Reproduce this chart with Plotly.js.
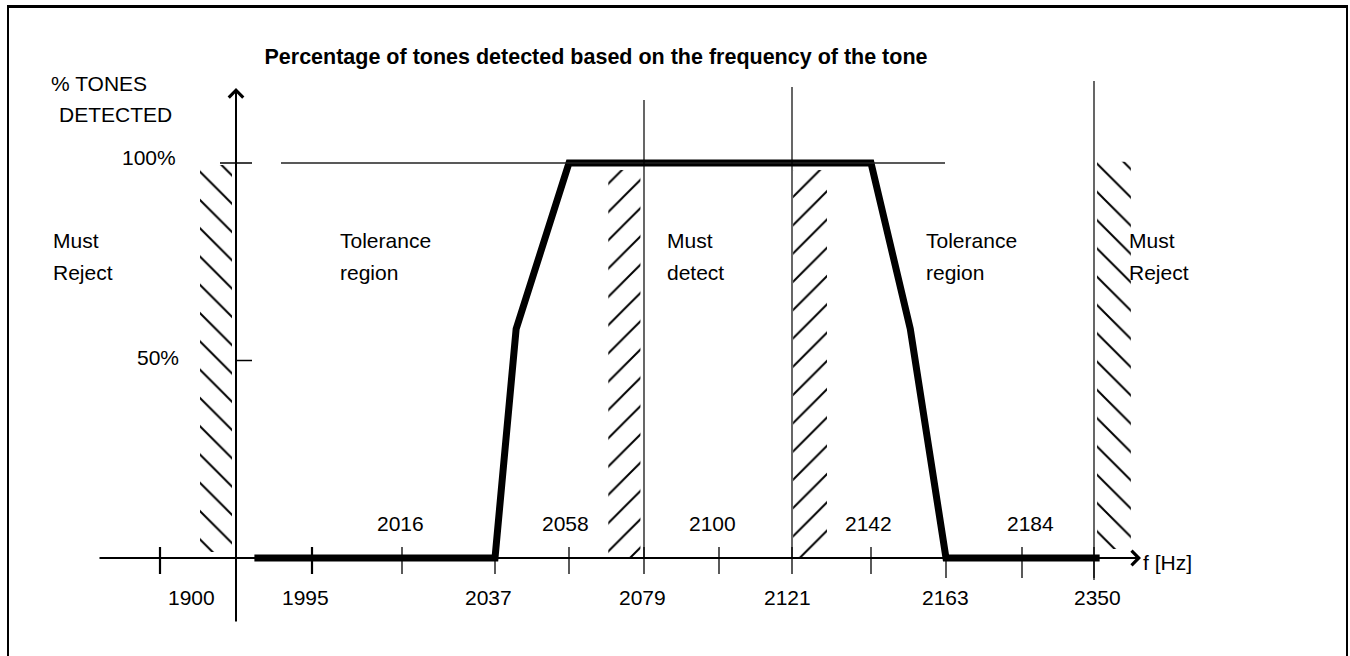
<!DOCTYPE html>
<html><head><meta charset="utf-8">
<script src="https://cdn.plot.ly/plotly-3.0.1.min.js"></script>
<style>html,body{margin:0;padding:0;background:#fff;}#chart{width:1350px;height:656px;}</style>
</head><body><div id="chart"></div>
<script>
// ---------- data ----------
const tickFreqs  = [1900, 1995, 2016, 2037, 2058, 2079, 2100, 2121, 2142, 2163, 2184, 2350];
const tickLabels = ['1900','1995','2016','2037','2058','2079','2100','2121','2142','2163','2184','2350'];
const tickAbove  = [false, false, true, false, true, false, true, false, true, false, true, false];
const curveFreq  = [1959, 2037, 2043, 2058, 2142, 2153, 2163, 2363];
const curvePct   = [0, 0, 58, 100, 100, 58, 0, 0];
const bandStart  = [1925, 2069, 2121.3, 2357];
const bandEnd    = [1945, 2078, 2130.3, 2435];
const bandLow    = [1.5, 0, 0, 2.3];
const bandHigh   = [99.5, 98.2, 98.2, 100.3];
const bandHatch  = ['\\', '/', '/', '\\'];
const yTickPct   = [100, 50];
const yTickText  = ['100%', '50%'];
const regionText = [['Must','Reject'],['Tolerance','region'],['Must','detect'],['Tolerance','region'],['Must','Reject']];
const titleText  = 'Percentage of tones detected based on the frequency of the tone';
const yTitle     = ['% TONES', 'DETECTED'];
const xTitle     = 'f [Hz]';

// ---------- schematic scale (layout) ----------
const tickPos = [160, 312, 402, 495, 569, 644, 719, 792, 871, 946, 1022, 1094];
function fx(f) {
  const n = tickFreqs.length;
  let i = 0;
  if (f <= tickFreqs[0]) i = 0;
  else if (f >= tickFreqs[n-1]) i = n - 2;
  else { while (f > tickFreqs[i+1]) i++; }
  const f0 = tickFreqs[i], f1 = tickFreqs[i+1], p0 = tickPos[i], p1 = tickPos[i+1];
  return p0 + (f - f0) / (f1 - f0) * (p1 - p0);
}
const P = py => (558 - py) / 3.95;   // pixel row -> percent
const FONT = 'Arial, "Liberation Sans", sans-serif';
const FS = 21;

const traces = [];
for (let i = 0; i < bandStart.length; i++) {
  const a = fx(bandStart[i]), b = fx(bandEnd[i]);
  traces.push({
    type: 'scatter', mode: 'lines',
    x: [a, b, b, a, a], y: [bandLow[i], bandLow[i], bandHigh[i], bandHigh[i], bandLow[i]],
    fill: 'toself', fillcolor: 'rgba(0,0,0,0)',
    fillpattern: {shape: bandHatch[i], fgcolor: '#000', bgcolor: '#fff', size: 20, solidity: 0.1},
    line: {width: 0, color: 'rgba(0,0,0,0)'}, hoverinfo: 'skip', showlegend: false
  });
}
traces.push({
  type: 'scatter', mode: 'lines',
  x: curveFreq.map(fx), y: curvePct,
  line: {color: '#000', width: 7}, hoverinfo: 'skip', showlegend: false
});

const shapes = [];
const L = (x0, y0, x1, y1, w, c) => shapes.push({type: 'line', xref: 'x', yref: 'y', x0, y0, x1, y1, line: {color: c || '#000', width: w}});
// frame
L(7, P(6.5), 1348, P(6.5), 3);
L(8, P(5), 8, P(700), 2);
L(1347, P(5), 1347, P(700), 2);
// 100% reference line
L(281, 100, 945, 100, 1.5, '#222');
// y ticks
L(220, 100, 252, 100, 1.5);
L(235, 50, 252, 50, 1.5);
// x ticks
tickFreqs.forEach((f, i) => {
  const x = fx(f);
  const thick = (i < 2) ? 2.2 : 1.3;
  L(x, P(547), x, P(i >= 9 ? 578 : 574), thick);
});
// vertical lines
L(fx(2079), P(100), fx(2079), 0, 1.2);
L(fx(2121), P(87), fx(2121), 0, 1.2);
L(fx(2350), P(81), fx(2350), P(580), 1.2);

const ann = [];
// axes arrows
ann.push({x: 1141, y: 0, ax: 98, ay: 0, xref: 'x', yref: 'y', axref: 'x', ayref: 'y', text: '', showarrow: true, arrowhead: 4, arrowsize: 1.4, arrowwidth: 2, arrowcolor: '#000', standoff: 0, startstandoff: 0});
ann.push({x: 236, y: P(88), ax: 236, ay: P(623), xref: 'x', yref: 'y', axref: 'x', ayref: 'y', text: '', showarrow: true, arrowhead: 4, arrowsize: 1.4, arrowwidth: 2, arrowcolor: '#000', standoff: 0, startstandoff: 0});
const T = (x, y, text, xanchor, extra) => ann.push(Object.assign({x, y, xref: 'x', yref: 'y', text, showarrow: false, xanchor: xanchor || 'center', yanchor: 'middle', font: {family: FONT, size: FS, color: '#000'}}, extra || {}));
// tick labels
const labelShift = [31, -7, -2, -7, -4, -2, -7, -5, -3, -1, 8, 3];
tickFreqs.forEach((f, i) => T(fx(f) + labelShift[i], P(tickAbove[i] ? 523 : 597), tickLabels[i]));
// y tick labels
T(178, P(157), yTickText[0], 'right');
T(181, P(357), yTickText[1], 'right');
// axis titles
T(49, P(83), yTitle[0], 'left');
T(57, P(114), yTitle[1], 'left');
T(1141, P(562), xTitle, 'left');
// region labels
const regionX = [51, 338, 665, 924, 1127];
regionText.forEach((t, i) => { T(regionX[i], P(240), t[0], 'left'); T(regionX[i], P(272), t[1], 'left'); });

const layout = {
  width: 1350, height: 656, margin: {l: 0, r: 0, t: 0, b: 0},
  paper_bgcolor: '#fff', plot_bgcolor: '#fff', showlegend: false,
  title: {text: '<b>' + titleText + '</b>', x: 596 / 1350, y: 1 - 56 / 656, xanchor: 'center', yanchor: 'middle', xref: 'paper', yref: 'container', font: {family: FONT, size: 21.5, color: '#000'}},
  xaxis: {range: [0, 1350], visible: false, fixedrange: true},
  yaxis: {range: [P(656), P(0)], visible: false, fixedrange: true},
  shapes, annotations: ann
};
Plotly.newPlot('chart', traces, layout, {displayModeBar: false, staticPlot: true});
</script></body></html>
